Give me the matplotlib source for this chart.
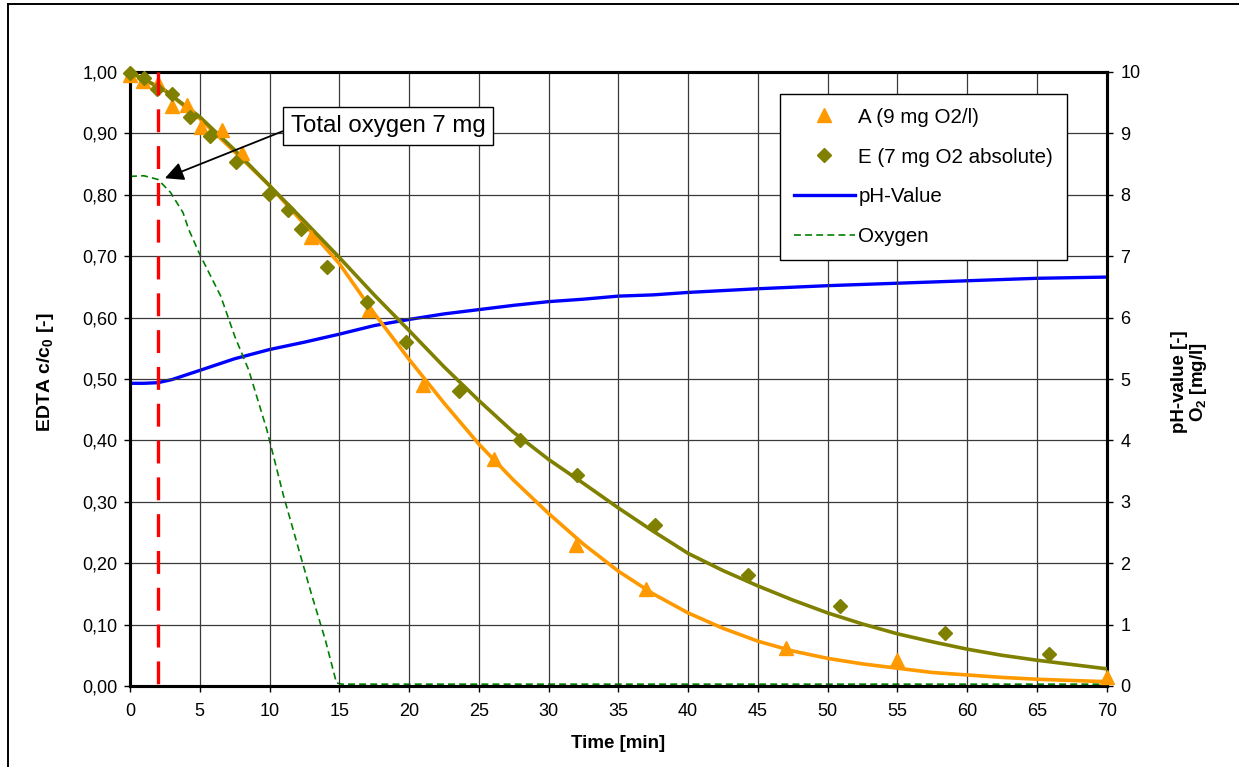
import matplotlib
matplotlib.use("Agg")
import matplotlib.pyplot as plt
from matplotlib.lines import Line2D

plt.rcParams['font.family'] = ['Liberation Sans', 'DejaVu Sans']
plt.rcParams['mathtext.fontset'] = 'custom'
plt.rcParams['mathtext.rm'] = 'Liberation Sans'
plt.rcParams['mathtext.bf'] = 'Liberation Sans:bold'
plt.rcParams['lines.scale_dashes'] = False

# ---- data ----
tA = [0, 0.95, 2.03, 3.0, 4.06, 5.08, 6.57, 8.05, 12.97, 17.1, 21.0, 26.06, 32.0, 37.0, 47.0, 55.0, 70.0]
A = [0.995, 0.985, 0.982, 0.944, 0.946, 0.911, 0.906, 0.868, 0.732, 0.612, 0.491, 0.369, 0.23, 0.158, 0.0615, 0.042, 0.015]

tE = [0, 1.03, 1.91, 2.99, 4.3, 5.73, 7.57, 9.98, 11.35, 12.25, 14.14, 17.0, 19.8, 23.55, 27.97, 32.04, 37.66, 44.3, 50.9, 58.4, 65.9]
E = [0.998, 0.99, 0.973, 0.964, 0.927, 0.895, 0.853, 0.802, 0.775, 0.745, 0.683, 0.625, 0.561, 0.48, 0.401, 0.344, 0.263, 0.181, 0.13, 0.086, 0.052]

t_fit = [0, 2.5, 5, 7.5, 10, 12.5, 15, 17.5, 20, 22.5, 25, 27.5, 30, 32.5, 35,
         37.5, 40, 42.5, 45, 47.5, 50, 52.5, 55, 57.5, 60, 62.5, 65, 67.5, 70]
fitA = [1.0, 0.97, 0.924, 0.87, 0.815, 0.752, 0.688, 0.607, 0.532, 0.461, 0.394, 0.335, 0.281, 0.231, 0.187,
        0.150, 0.119, 0.094, 0.073, 0.057, 0.045, 0.036, 0.029, 0.022, 0.018, 0.014, 0.011, 0.009, 0.007]
fitE = [1.0, 0.97, 0.927, 0.873, 0.815, 0.757, 0.698, 0.637, 0.579, 0.52, 0.465, 0.413, 0.369, 0.330, 0.290,
        0.252, 0.216, 0.188, 0.163, 0.14, 0.119, 0.101, 0.085, 0.072, 0.06, 0.05, 0.042, 0.035, 0.028]

t_pH = [0, 1, 2, 3, 5, 7.5, 10, 12.5, 15, 17.5, 20, 22.5, 25, 27.5, 30, 32.5, 35, 37.5, 40, 45, 50, 55, 60, 65, 70]
pH = [4.93, 4.93, 4.94, 4.99, 5.14, 5.33, 5.48, 5.60, 5.73, 5.87, 5.97, 6.06, 6.13, 6.20, 6.26, 6.30, 6.35, 6.37,
      6.41, 6.47, 6.52, 6.56, 6.60, 6.64, 6.66]

t_O2 = [0, 1, 2, 2.9, 3.8, 4.2, 5, 6.5, 7.5, 8.5, 9.8, 11, 12, 13, 14, 14.8, 15.2, 70]
O2 = [8.30, 8.31, 8.25, 8.04, 7.71, 7.44, 7.03, 6.35, 5.70, 5.15, 4.18, 3.1, 2.3, 1.5, 0.75, 0.05, 0.03, 0.03]

start_time = 2
x_ticks = list(range(0, 75, 5))
y_left_ticks = [i / 10 for i in range(11)]
y_left_labels = [("%.2f" % v).replace('.', ',') for v in y_left_ticks]
y_right_ticks = list(range(11))

ORANGE = '#FF9900'
OLIVE = '#808000'

W, H = 1239, 767
fig = plt.figure(figsize=(W / 100, H / 100), dpi=100)
ax = fig.add_axes([130 / W, 1 - 686 / H, (1106.7 - 130) / W, (686 - 72) / H])
ax2 = ax.twinx()

ax.set_xlim(0, 70)
ax.set_ylim(0, 1)
ax2.set_ylim(0, 10)

ax.set_xticks(x_ticks)
ax.set_yticks(y_left_ticks)
ax.set_yticklabels(y_left_labels)
ax2.set_yticks(y_right_ticks)

ax.grid(True, color='#3a3a3a', lw=0.9)
ax.set_axisbelow(True)

for a in (ax, ax2):
    for s in a.spines.values():
        s.set_linewidth(2.2)
        s.set_color('black')

ax.tick_params(axis='both', direction='out', length=4, width=1, labelsize=13, color='black')
ax.tick_params(axis='x', pad=8)
ax.tick_params(axis='y', pad=5)
ax2.tick_params(axis='y', direction='out', length=4, width=1, labelsize=13, pad=6)

# right-axis series
lph, = ax2.plot(t_pH, pH, color='#0000FF', lw=2.4, label='pH-Value', zorder=3)
lo2, = ax2.plot(t_O2, O2, color='#008000', lw=1.2, dashes=(5, 3), label='Oxygen', zorder=3)

ax.set_zorder(ax2.get_zorder() + 1)
ax.patch.set_visible(False)

ax.plot(t_fit, fitA, color=ORANGE, lw=2.6, zorder=3)
ax.plot(t_fit, fitE, color=OLIVE, lw=2.6, zorder=3)
sa, = ax.plot(tA, A, linestyle='none', marker='^', ms=10, color=ORANGE, mec=ORANGE,
              label='A (9 mg O2/l)', zorder=4, clip_on=False)
se, = ax.plot(tE, E, linestyle='none', marker='D', ms=7.5, color=OLIVE, mec=OLIVE,
              label='E (7 mg O2 absolute)', zorder=4, clip_on=False)

ax.plot([start_time, start_time], [1.0, 0.0], color='#FF0000', lw=2.4, dashes=(16.5, 10), zorder=5)

ax.annotate('Total oxygen 7 mg', xy=(2.5, 0.827), xytext=(18.5, 0.912),
            fontsize=17.3, ha='center', va='center',
            bbox=dict(boxstyle='square,pad=0.32', fc='white', ec='black', lw=1),
            arrowprops=dict(arrowstyle='-|>', color='black', lw=1.3, mutation_scale=28,
                            relpos=(0, 0.41), shrinkA=0, shrinkB=0),
            zorder=6)

leg = ax.legend([sa, se, lph, lo2], ['A (9 mg O2/l)', 'E (7 mg O2 absolute)', 'pH-Value', 'Oxygen'],
                loc='upper left', bbox_to_anchor=((780 - 130) / 976.7, (686 - 94) / 614),
                borderaxespad=0, fontsize=14.8, handlelength=3.0, handletextpad=0.15,
                labelspacing=1.02, borderpad=0.66, numpoints=1, fancybox=False, framealpha=1,
                edgecolor='black')
leg.get_frame().set_linewidth(1.0)
leg.set_zorder(7)

fig.text(45 / W, 1 - 372 / H, r'EDTA c/c$_\mathbf{0}$ [-]', rotation=90, ha='center', va='center',
         fontsize=14, fontweight='bold')
fig.text(618 / W, 1 - 744 / H, 'Time [min]', ha='center', va='center', fontsize=13.5, fontweight='bold')
fig.text(1190 / W, 1 - 382 / H, 'pH-value [-]\n' + r'O$_\mathbf{2}$ [mg/l]', rotation=90,
         ha='center', va='center', fontsize=13.5, fontweight='bold', multialignment='center',
         linespacing=1.0)

# outer chart border
fig.add_artist(Line2D([8 / W, 8 / W], [0, 1 - 4 / H], transform=fig.transFigure, color='black', lw=1.4))
fig.add_artist(Line2D([8 / W, 1], [1 - 4 / H, 1 - 4 / H], transform=fig.transFigure, color='black', lw=1.4))

fig.savefig('out.png', dpi=100)
